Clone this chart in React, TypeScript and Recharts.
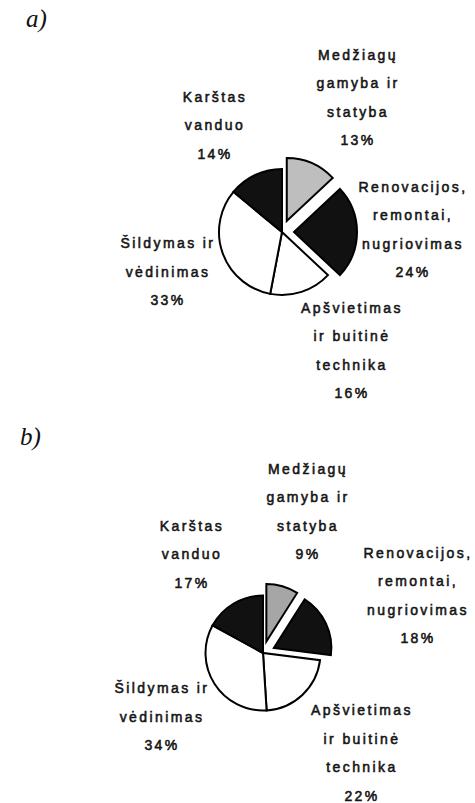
import { PieChart, Pie, Cell } from "recharts";

// slices clockwise from 12 o'clock
const categories = [
  "Medžiagų gamyba ir statyba",
  "Renovacijos, remontai, nugriovimas",
  "Apšvietimas ir buitinė technika",
  "Šildymas ir vėdinimas",
  "Karštas vanduo",
];
const labelLines = [
  ["Medžiagų", "gamyba ir", "statyba"],
  ["Renovacijos,", "remontai,", "nugriovimas"],
  ["Apšvietimas", "ir buitinė", "technika"],
  ["Šildymas ir", "vėdinimas"],
  ["Karštas", "vanduo"],
];
const sharesA = [13, 24, 16, 33, 14];
const sharesB = [9, 18, 22, 34, 17];
const explodedIdx = [0, 1];

const LINE_H = 28.5;
const EXPLODE = 12;

const panelA = {
  tag: "a)",
  shares: sharesA,
  gray: "#bebebe",
  cx: 277,
  cy: 227,
  r: 63,
  labelPos: [[76, -134.5], [131, -2.5], [70, 118.5], [-114, 39.5], [-67, -107]],
};
const panelB = {
  tag: "b)",
  shares: sharesB,
  gray: "#a6a6a6",
  cx: 258,
  cy: 248,
  r: 57.5,
  labelPos: [[45, -141.5], [155, -57.5], [99, 100], [-101, 63.5], [-71, -99]],
};

function midAngle(shares: number[], i: number) {
  const total = shares.reduce((s, v) => s + v, 0);
  const before = shares.slice(0, i).reduce((s, v) => s + v, 0);
  return 90 - ((before + shares[i] / 2) / total) * 360;
}

function Panel({ p, height }: { p: typeof panelA; height: number }) {
  const data = categories.map((name, i) => ({ name, value: p.shares[i] }));
  const fills = [p.gray, "#111111", "#ffffff", "#ffffff", "#111111"];

  const renderLabel = (props: any) => {
    const { index, value } = props;
    const cx = props.cx ?? p.cx;
    const cy = props.cy ?? p.cy;
    const [dx, dy] = p.labelPos[index];
    const lines = [...labelLines[index], `${value}%`];
    const x = cx + dx;
    const y0 = cy + dy - ((lines.length - 1) * LINE_H) / 2;
    return (
      <text
        key={`lbl-${index}`}
        x={x}
        y={y0}
        textAnchor="middle"
        dominantBaseline="central"
        fill="#151515"
        stroke="#151515"
        strokeWidth={0.55}
        fontFamily="'Liberation Sans', Arial, sans-serif"
        fontSize={14}
        letterSpacing={2.4}
      >
        {lines.map((l, i) => (
          <tspan key={i} x={x} y={y0 + i * LINE_H}>
            {l}
          </tspan>
        ))}
      </text>
    );
  };

  return (
    <PieChart width={475} height={height}>
      <Pie
        data={data}
        dataKey="value"
        nameKey="name"
        cx={p.cx}
        cy={p.cy}
        outerRadius={p.r}
        startAngle={90}
        endAngle={-270}
        isAnimationActive={false}
        label={renderLabel}
        labelLine={false}
      >
        {data.map((d, i) => (
          <Cell
            key={d.name}
            fill={explodedIdx.includes(i) ? "none" : fills[i]}
            stroke={explodedIdx.includes(i) ? "none" : "#000"}
            strokeWidth={2}
          />
        ))}
      </Pie>
      {explodedIdx.map((k) => {
        const a = (midAngle(p.shares, k) * Math.PI) / 180;
        return (
          <Pie
            key={`ex-${k}`}
            data={data}
            dataKey="value"
            nameKey="name"
            cx={p.cx + EXPLODE * Math.cos(a)}
            cy={p.cy - EXPLODE * Math.sin(a)}
            outerRadius={p.r}
            startAngle={90}
            endAngle={-270}
            isAnimationActive={false}
          >
            {data.map((d, i) => (
              <Cell
                key={d.name}
                fill={i === k ? fills[i] : "none"}
                stroke={i === k ? "#000" : "none"}
                strokeWidth={2}
              />
            ))}
          </Pie>
        );
      })}
    </PieChart>
  );
}

const tagStyle: React.CSSProperties = {
  position: "absolute",
  fontFamily: "'Liberation Serif', 'Times New Roman', serif",
  fontStyle: "italic",
  fontSize: 25,
  lineHeight: "24px",
  color: "#111",
};

export default function App() {
  return (
    <div style={{ position: "absolute", left: 0, top: 0, width: 475, height: 803, background: "#fff" }}>
      <div style={{ position: "absolute", left: 0, top: 0 }}>
        <Panel p={panelA} height={400} />
      </div>
      <div style={{ position: "absolute", left: 0, top: 400 }}>
        <Panel p={panelB} height={403} />
      </div>
      <div style={{ ...tagStyle, left: 26, top: 7 }}>{panelA.tag}</div>
      <div style={{ ...tagStyle, left: 20, top: 425 }}>{panelB.tag}</div>
    </div>
  );
}
